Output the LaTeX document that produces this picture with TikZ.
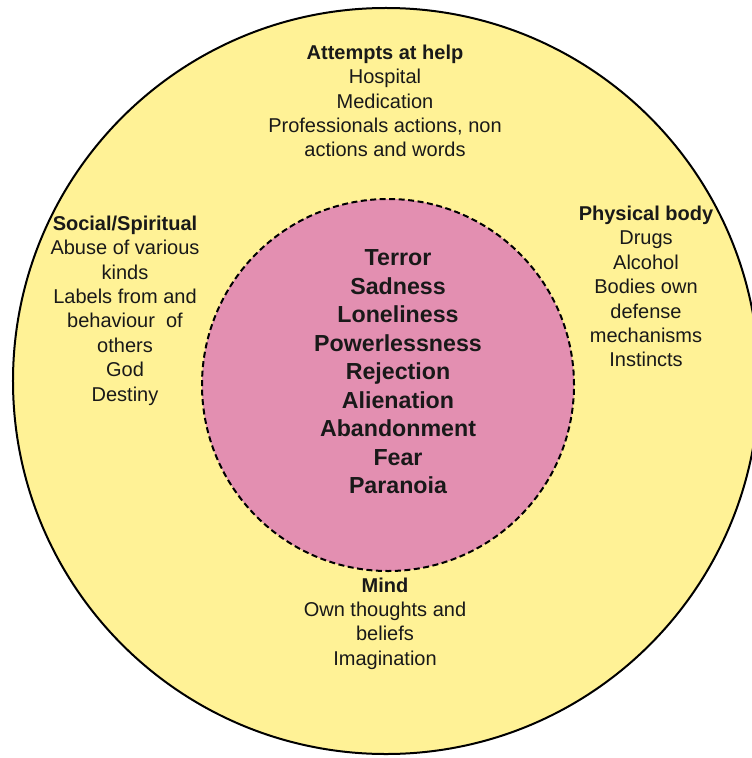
\documentclass[tikz,border=0pt]{standalone}
\usepackage{fontspec}
\setmainfont{Liberation Sans}
\definecolor{outerfill}{RGB}{255,242,150}
\definecolor{innerfill}{RGB}{227,143,177}
\definecolor{txt}{RGB}{25,25,25}
\tikzset{
  ring/.style={circle, draw=black, line width=2bp, inner sep=0pt},
  core/.style={circle, draw=black, line width=2bp, dash pattern=on 6bp off 3.5bp, inner sep=0pt},
  block/.style={align=center, text=txt, inner sep=0pt, font=\fontsize{20bp}{24.4bp}\selectfont},
  feelings/.style={align=center, text=txt, inner sep=0pt, font=\fontsize{23.2bp}{28.5bp}\selectfont\bfseries},
}
\begin{document}
\begin{tikzpicture}[x=1bp, y=-1bp]
  \useasboundingbox (0,0) rectangle (752,758);
  \clip (0,0) rectangle (752,758);
  % outer ring and inner core
  \node[ring, fill=outerfill, minimum size=746bp] (outer) at (386,381) {};
  \node[core, fill=innerfill, minimum size=372bp] (inner) at (388,385) {};
  % sector labels
  \node[block] (help) at (385,101) {\textbf{Attempts at help}\\Hospital\\Medication\\Professionals actions, non\\actions and words};
  \node[block] (social) at (125,310.5) {\textbf{Social/Spiritual}\\Abuse of various\\kinds\\Labels from and\\behaviour\ \ of\\others\\God\\Destiny};
  \node[block] (body) at (646,286.5) {\textbf{Physical body}\\Drugs\\Alcohol\\Bodies own\\defense\\mechanisms\\Instincts};
  \node[block] (mind) at (385,623.5) {\textbf{Mind}\\Own thoughts and\\beliefs\\Imagination};
  % core feelings
  \node[feelings] (core) at (398,372) {Terror\\Sadness\\Loneliness\\Powerlessness\\Rejection\\Alienation\\Abandonment\\Fear\\Paranoia};
\end{tikzpicture}
\end{document}
